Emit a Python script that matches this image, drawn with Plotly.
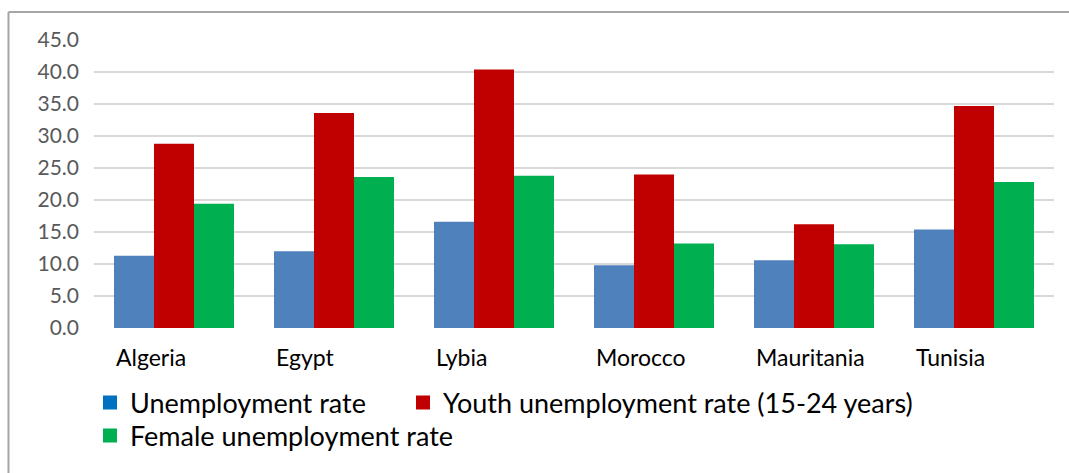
import plotly.graph_objects as go

countries = ["Algeria", "Egypt", "Lybia", "Morocco", "Mauritania", "Tunisia"]
unemployment = [11.3, 12.0, 16.6, 9.8, 10.6, 15.4]
youth_unemployment = [28.8, 33.6, 40.4, 24.0, 16.2, 34.7]
female_unemployment = [19.4, 23.6, 23.8, 13.2, 13.1, 22.8]
y_ticks = [0, 5, 10, 15, 20, 25, 30, 35, 40, 45]

series_names = ["Unemployment rate", "Youth unemployment rate (15-24 years)", "Female unemployment rate"]
bar_colors = ["#4f81bd", "#c00000", "#00b050"]
legend_colors = ["#0070c0", "#c00000", "#00b050"]

W, H = 1069, 473
L, R, T, B = 94, 15, 40, 145

pw = W - L - R
ph = H - T - B
def px_x(p):
    return (p - L) / pw
def px_y(p):
    return (H - B - p) / ph

fig = go.Figure()
for name, vals, col in zip(series_names, [unemployment, youth_unemployment, female_unemployment], bar_colors):
    fig.add_trace(go.Bar(x=countries, y=vals, name=name, marker=dict(color=col, line=dict(width=0)),
                         showlegend=False))

# legend entries (square swatches), each in its own legend box
legend_ids = ["legend", "legend2", "legend3"]
for name, col, lid in zip(series_names, legend_colors, legend_ids):
    fig.add_trace(go.Scatter(x=[None], y=[None], mode="markers", name=name, legend=lid,
                             marker=dict(symbol="square", size=14, color=col)))

for c in countries:
    fig.add_annotation(x=c, y=0, xref="x", yref="y", text=c, showarrow=False,
                       xanchor="left", yanchor="middle", xshift=-60, yshift=-29,
                       font=dict(family="Lato", size=23, color="#000000"))

# chart frame (left and top border)
fig.add_shape(type="line", xref="paper", yref="paper", x0=px_x(8.5), x1=px_x(8.5), y0=px_y(12), y1=px_y(473),
              line=dict(color="#a6a6a6", width=2))
fig.add_shape(type="line", xref="paper", yref="paper", x0=px_x(8.5), x1=px_x(1069), y0=px_y(12), y1=px_y(12),
              line=dict(color="#a6a6a6", width=2))

legend_font = dict(family="Lato", size=27, color="#000000")
def leg(xp, yp):
    return dict(x=px_x(xp), y=px_y(yp), xanchor="left", yanchor="middle", orientation="h",
                itemwidth=30, font=legend_font, bgcolor="rgba(0,0,0,0)")

fig.update_layout(
    width=W, height=H,
    margin=dict(l=L, r=R, t=T, b=B, pad=0),
    paper_bgcolor="white", plot_bgcolor="white",
    barmode="group", bargap=0.25, bargroupgap=0,
    xaxis=dict(showticklabels=False, showgrid=False, zeroline=False, showline=False, ticks=""),
    yaxis=dict(range=[0, 45], tickvals=y_ticks, ticktext=[f"{v:.1f}" for v in y_ticks],
               showgrid=True, gridcolor="#d9d9d9", gridwidth=1.5, zeroline=False, showline=False,
               ticks="", ticklabelstandoff=14,
               tickfont=dict(family="Lato", size=21, color="#595959")),
    legend=leg(90, 403),
    legend2=leg(403, 403),
    legend3=leg(90, 436),
    font=dict(family="Lato"),
)

fig.write_html("out.html")
